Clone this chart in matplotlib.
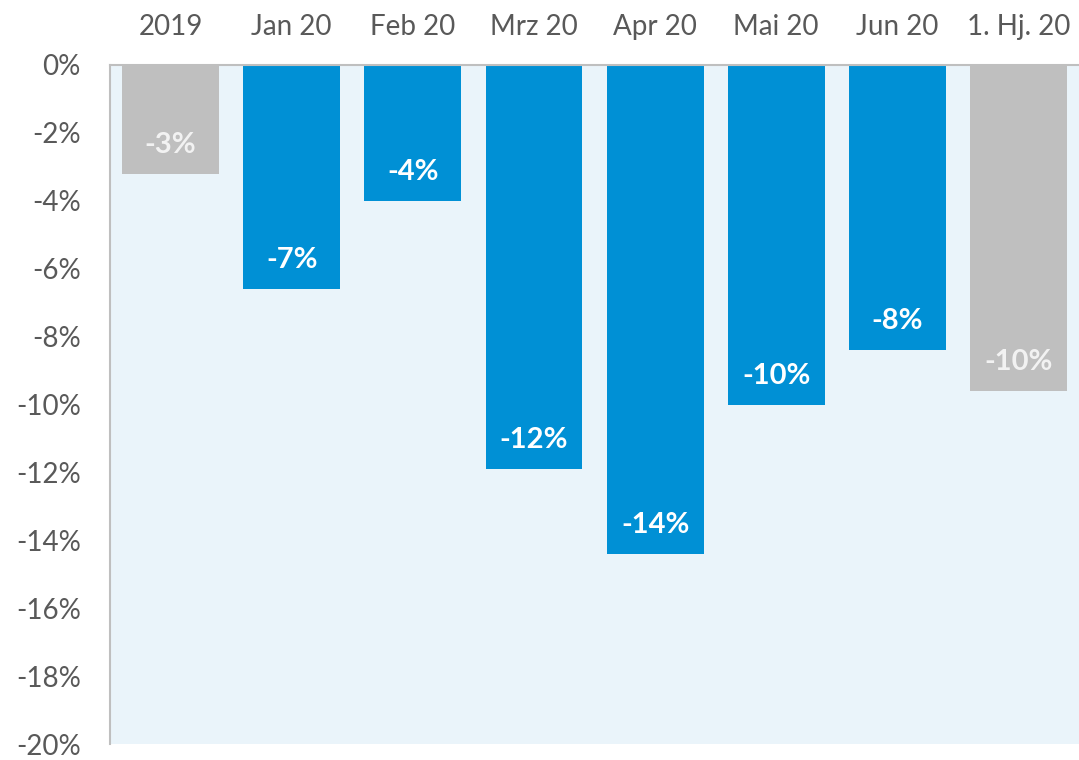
import numpy as np
import matplotlib.pyplot as plt

# Veränderung gegenüber Vorjahr
categories = ["2019", "Jan 20", "Feb 20", "Mrz 20", "Apr 20", "Mai 20", "Jun 20", "1. Hj. 20"]
values = [-3.2, -6.6, -4.0, -11.9, -14.4, -10.0, -8.4, -9.6]
is_summary = [True, False, False, False, False, False, False, True]
yticks = list(range(0, -22, -2))

BLUE = "#0090d5"
GREY = "#bfbfbf"
BG = "#eaf4fa"
TEXT = "#595959"

plt.rcParams['font.family'] = ['Lato', 'DejaVu Sans']

fig = plt.figure(figsize=(10.79, 7.6), dpi=100)
ax = fig.add_axes([0.102, 0.021, 0.898, 0.8935])
ax.set_facecolor(BG)

x = np.arange(len(categories))
colors = [GREY if s else BLUE for s in is_summary]
ax.bar(x, values, width=0.8, color=colors, zorder=2)

for xi, v, s in zip(x, values, is_summary):
    ax.text(xi, v + 0.85, "{:.0f}%".format(v), ha="center", va="center",
            color="#f2f2f2" if s else "white", fontsize=21, fontweight="bold", zorder=3)

ax.set_xlim(-0.5, len(categories) - 0.5)
ax.set_ylim(-20, 0)
ax.set_yticks(yticks)
ax.set_yticklabels(["{}%".format(t) for t in yticks])
ax.set_xticks(x)
ax.set_xticklabels(categories)
ax.xaxis.tick_top()
ax.tick_params(axis="both", length=0, labelsize=20, labelcolor=TEXT)
ax.tick_params(axis="y", pad=21)
ax.tick_params(axis="x", pad=18)

for side in ["right", "bottom"]:
    ax.spines[side].set_visible(False)
for side in ["left", "top"]:
    ax.spines[side].set_color(GREY)
    ax.spines[side].set_linewidth(1.5)

plt.savefig("out.png", dpi=100)
